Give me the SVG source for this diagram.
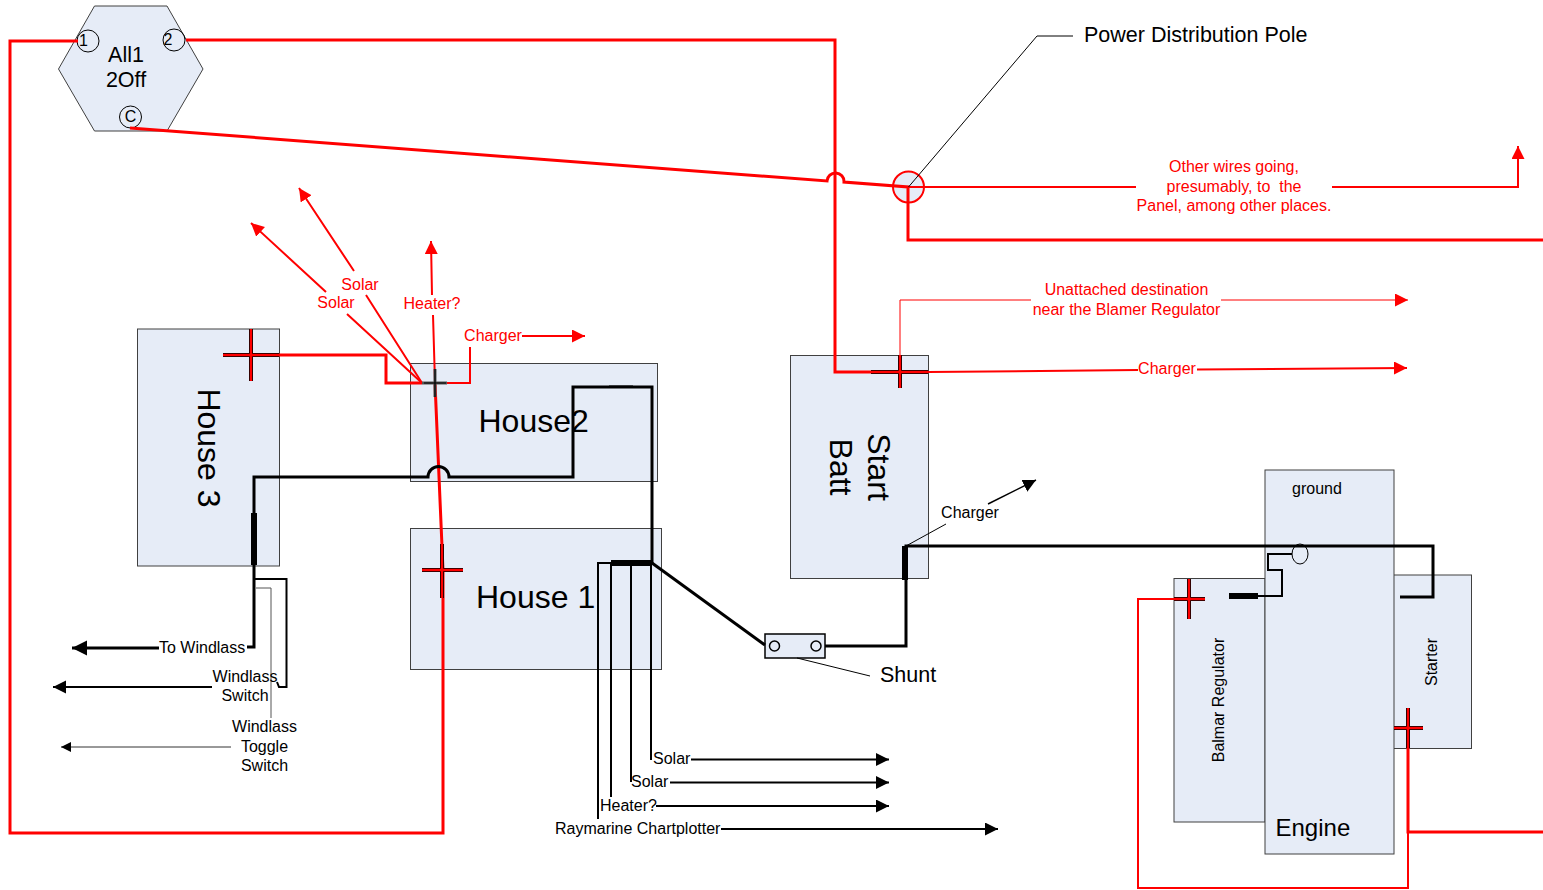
<svg xmlns="http://www.w3.org/2000/svg" width="1543" height="890" viewBox="0 0 1543 890">
<defs>
<marker id="ar" markerUnits="userSpaceOnUse" markerWidth="14" markerHeight="14" refX="13" refY="6.5" orient="auto"><path d="M0,0L13,6.5L0,13Z" fill="#f00"/></marker>
<marker id="ab" markerUnits="userSpaceOnUse" markerWidth="14" markerHeight="14" refX="13" refY="6.5" orient="auto"><path d="M0,0L13,6.5L0,13Z" fill="#000"/></marker>
<marker id="abl" markerUnits="userSpaceOnUse" markerWidth="16" markerHeight="16" refX="15" refY="7.5" orient="auto"><path d="M0,0L15,7.5L0,15Z" fill="#000"/></marker>
<marker id="abs" markerUnits="userSpaceOnUse" markerWidth="11" markerHeight="11" refX="10" refY="5" orient="auto"><path d="M0,0L10,5L0,10Z" fill="#000"/></marker>
</defs>
<style>
.box{fill:#e6ecf7;stroke:#404040;stroke-width:1}
.r1{stroke:#f00;stroke-width:1;fill:none}
.r2{stroke:#f00;stroke-width:2;fill:none}
.r3{stroke:#f00;stroke-width:3;fill:none}
.k1{stroke:#000;stroke-width:1;fill:none}
.k2{stroke:#000;stroke-width:2;fill:none}
.k3{stroke:#000;stroke-width:3;fill:none}
.k5{stroke:#000;stroke-width:6;fill:none}
.plus{stroke:#000;stroke-width:4;fill:none}
.plusr{stroke:#f00;stroke-width:2.400;fill:none}
text{font-family:"Liberation Sans",Arial,sans-serif;fill:#000;white-space:pre}
.s{font-size:16px}
.m{font-size:21.500px}
.xl{font-size:32px}
.red{fill:#f00;font-size:16px}
.c{text-anchor:middle}
</style>

<g id="node-switch">
<path class="box" d="M94.500,6H167L203,69L167,131H94.500L58.500,69Z"/>
<circle cx="88" cy="41" r="11" fill="none" stroke="#000"/>
<circle cx="174" cy="40" r="11" fill="none" stroke="#000"/>
<circle cx="130.500" cy="117" r="11" fill="none" stroke="#000"/>
<text class="s c" x="83.500" y="46">1</text>
<text class="s c" x="168" y="45">2</text>
<text class="s c" x="130.500" y="122">C</text>
<text class="m c" x="126" y="62">All1</text>
<text class="m c" x="126" y="87">2Off</text>
</g>
<g id="node-house3">
<rect class="box" x="137.500" y="329" width="142" height="237"/>
<text class="xl c" transform="translate(206,448) rotate(90)" dominant-baseline="middle">House 3</text>
</g>
<g id="node-house2">
<rect class="box" x="410.500" y="363.500" width="247" height="118"/>
<text class="xl" x="478.500" y="432">House2</text>
</g>
<g id="node-house1">
<rect class="box" x="410.500" y="528.500" width="251" height="141"/>
<text class="xl" x="476" y="608">House 1</text>
</g>
<g id="node-start">
<rect class="box" x="790.500" y="355.500" width="138" height="223"/>
<text class="xl c" transform="translate(876,467) rotate(90)" dominant-baseline="middle">Start</text>
<text class="xl c" transform="translate(838,467) rotate(90)" dominant-baseline="middle">Batt</text>
</g>
<g id="node-regulator">
<rect class="box" x="1174" y="578.500" width="91" height="243.500"/>
<text class="s c" transform="translate(1224,700) rotate(-90)">Balmar Regulator</text>
</g>
<g id="node-starter">
<rect class="box" x="1393.500" y="575" width="78" height="173.500"/>
<text class="s c" transform="translate(1437,662) rotate(-90)">Starter</text>
</g>
<g id="node-engine">
<rect class="box" x="1265" y="470" width="129" height="384"/>
<text class="s" x="1292" y="494">ground</text>
<text x="1275.500" y="836" style="font-size:24px">Engine</text>
<ellipse cx="1300" cy="554" rx="8" ry="10" fill="#e6ecf7" stroke="#000"/>
</g>
<g id="node-shunt">
<rect x="765" y="634" width="60" height="24" fill="#e6ecf7" stroke="#000" stroke-width="1.500"/>
<circle cx="774.500" cy="646" r="5" fill="#e6ecf7" stroke="#000" stroke-width="1.500"/>
<circle cx="816" cy="646" r="5" fill="#e6ecf7" stroke="#000" stroke-width="1.500"/>
</g>
<g id="node-pole">
<circle cx="908.500" cy="187" r="15.500" fill="#e6ecf7" stroke="#f00" stroke-width="2"/>
</g>

<g id="connectors">
<path class="r3" d="M78,41H10V833H443V570L435,383"/>
<path class="r3" d="M186,40H835V372H900"/>
<path class="r3" d="M130,128L827,181A8.500,8.500 0 0 1 844,182L908,187V240H1543"/>
<path class="r2" d="M908,187H1136M1332,187H1518V146" marker-end="url(#ar)"/>
<path class="k1" d="M908.500,187L1037,36H1073"/>
<path d="M900,355V300H1031M1221,300H1408" stroke="#f00" stroke-width="1" fill="none" marker-end="url(#ar)"/>
<path class="r2" d="M928,372L1138,370M1197,369.500L1407,368" marker-end="url(#ar)"/>
<path class="r3" d="M250,355H386V383H422"/>
<path class="r2" d="M422,383H470V347"/>
<path class="r2" d="M522,336H585" marker-end="url(#ar)"/>
<path class="r2" d="M422,383L347,314M326,292L251,223" marker-end="url(#ar)"/>
<path class="r2" d="M422,383L366,295M354,271L299,188" marker-end="url(#ar)"/>
<path class="r2" d="M435,383L433,315M432,295L431,241" marker-end="url(#ar)"/>

<path class="k3" d="M254,565V477H428A10,10 0 0 1 449,477H573V387H652V563H612"/>
<path d="M609,386H633" class="k1"/>
<path class="k5" d="M611,563H651"/>
<path class="k5" d="M254,513V565"/>
<path class="k3" d="M652,563L765,645"/>
<path class="k3" d="M825,646H906V546H1433V597H1400"/>
<path class="k5" d="M905,546V580"/>
<path class="k1" d="M906,546L946,524"/>
<path d="M988,504L1036,480" stroke="#000" stroke-width="1.500" fill="none" marker-end="url(#ab)"/>
<path class="k1" d="M797,658L870,676"/>
<path class="k2" d="M1292,554H1268V570H1282V596H1258"/>
<path class="k5" d="M1229,596H1258"/>

<path class="k3" d="M254,565V647H247M159,648H72" marker-end="url(#abl)"/>
<path class="k2" d="M255,579H286.500V687H279L277,682"/>
<path class="k2" d="M212,687H53" marker-end="url(#ab)"/>
<path d="M256,588H271V718" stroke="#555" stroke-width="1" fill="none"/>
<path d="M231,747H61" stroke="#333" stroke-width="1" fill="none" marker-end="url(#abs)"/>

<path class="k2" d="M651,563V760M691,759.500H889" marker-end="url(#ab)"/>
<path class="k2" d="M631,563V782M670,782.500H889" marker-end="url(#ab)"/>
<path class="k2" d="M611,563V797M656,806H889" marker-end="url(#ab)"/>
<path class="k2" d="M598,819V563H611"/>
<path class="k2" d="M721,829H998" marker-end="url(#ab)"/>

<path class="r2" d="M1408,728V888H1138V599H1189"/>
<path class="r3" d="M1408,728V832H1543"/>

<path class="plus" d="M223,355H279M251,329V381"/>
<path class="plusr" d="M223,355H279M251,329V381"/>
<path class="plus" d="M422,570H463M442,544V598"/>
<path class="plusr" d="M422,570H463M442,544V598"/>
<path d="M422,383H447M435,369V397" stroke="#555" stroke-width="3" fill="none"/>
<path d="M424,383H446M435,369V397" stroke="#000" stroke-width="1.200" fill="none"/>
<path class="plus" d="M871,372H928M900,355V388"/>
<path class="plusr" d="M871,372H928M900,355V388"/>
<path class="plus" d="M1174,599H1205M1189,579V619"/>
<path class="plusr" d="M1174,599H1205M1189,579V619"/>
<path class="plus" d="M1394,728H1423M1408,708V748"/>
<path class="plusr" d="M1394,728H1423M1408,708V748"/>
</g>

<g id="labels">
<text class="m" x="1084" y="42">Power Distribution Pole</text>
<text class="red c" x="1234" y="172">Other wires going,</text>
<text class="red c" x="1234" y="192">presumably, to  the</text>
<text class="red c" x="1234" y="211">Panel, among other places.</text>
<text class="red c" x="1126.500" y="295">Unattached destination</text>
<text class="red c" x="1126.500" y="315">near the Blamer Regulator</text>
<text class="red c" x="1167" y="374">Charger</text>
<text class="red c" x="360" y="290">Solar</text>
<text class="red c" x="336" y="308">Solar</text>
<text class="red c" x="432" y="309">Heater?</text>
<text class="red c" x="493" y="341">Charger</text>
<text class="s c" x="970" y="518">Charger</text>
<text class="m" x="880" y="682">Shunt</text>
<text class="s" x="159" y="653">To Windlass</text>
<text class="s c" x="245" y="682">Windlass</text>
<text class="s c" x="245" y="701">Switch</text>
<text class="s c" x="264.500" y="732">Windlass</text>
<text class="s c" x="264.500" y="752">Toggle</text>
<text class="s c" x="264.500" y="771">Switch</text>
<text class="s" x="653" y="764">Solar</text>
<text class="s" x="631" y="787">Solar</text>
<text class="s" x="600" y="811">Heater?</text>
<text class="s" x="555" y="834">Raymarine Chartplotter</text>
</g>
</svg>
